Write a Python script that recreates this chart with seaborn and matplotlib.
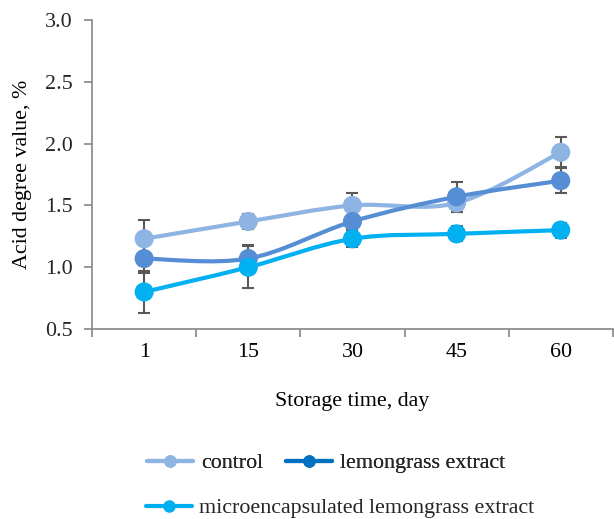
import numpy as np
import pandas as pd
import seaborn as sns
import matplotlib
matplotlib.use("Agg")
import matplotlib.pyplot as plt
from matplotlib.path import Path
from matplotlib.patches import PathPatch
from matplotlib.lines import Line2D

days = ["1", "15", "30", "45", "60"]
control = [1.23, 1.37, 1.50, 1.52, 1.93]
control_err = [0.15, 0.06, 0.10, 0.07, 0.12]
lemongrass = [1.07, 1.07, 1.37, 1.57, 1.70]
lemongrass_err = [0.12, 0.11, 0.09, 0.12, 0.10]
micro = [0.80, 1.00, 1.23, 1.27, 1.30]
micro_err = [0.17, 0.17, 0.07, 0.06, 0.06]

series_names = ["control", "lemongrass extract", "microencapsulated lemongrass extract"]
line_colors = ["#8DB4E2", "#558ED5", "#00B0F0"]
legend_colors = ["#8DB4E2", "#0070C0", "#00B0F0"]

FS = 15.8

sns.set_theme(style="white")
plt.rcParams["font.family"] = ["Liberation Serif", "DejaVu Serif"]

rows = []
for name, vals, errs in zip(series_names, [control, lemongrass, micro],
                            [control_err, lemongrass_err, micro_err]):
    for i, (d, v, e) in enumerate(zip(days, vals, errs)):
        rows.append({"series": name, "day": d, "pos": i, "value": v, "err": e})
df = pd.DataFrame(rows)

fig = plt.figure(figsize=(6.14, 5.19), dpi=100)
ax = fig.add_axes([0.150, 0.366, 0.848, 0.5955])


def smooth_path(xs, ys):
    pts = np.column_stack([xs, ys]).astype(float)
    n = len(pts)
    verts = [pts[0]]
    codes = [Path.MOVETO]
    for i in range(n - 1):
        p0 = pts[i - 1] if i > 0 else pts[i]
        p1 = pts[i]
        p2 = pts[i + 1]
        p3 = pts[i + 2] if i + 2 < n else pts[i + 1]
        c1 = p1 + (p2 - p0) / 6.0
        c2 = p2 - (p3 - p1) / 6.0
        verts += [c1, c2, p2]
        codes += [Path.CURVE4] * 3
    return Path(verts, codes)


for name, col in zip(series_names, line_colors):
    sub = df[df["series"] == name]
    ax.errorbar(sub["pos"], sub["value"], yerr=sub["err"], fmt="none",
                ecolor="#595959", elinewidth=1.5, capsize=4.5, capthick=1.5, zorder=2)

for name, col in zip(series_names, line_colors):
    sub = df[df["series"] == name]
    patch = PathPatch(smooth_path(sub["pos"].values, sub["value"].values),
                      facecolor="none", edgecolor=col, lw=3.0, zorder=3,
                      capstyle="round", joinstyle="round")
    ax.add_patch(patch)

sns.scatterplot(data=df, x="pos", y="value", hue="series", palette=line_colors,
                hue_order=series_names, s=190, edgecolor="none", ax=ax,
                legend=False, zorder=4)

ax.set_xlim(-0.5, 4.5)
ax.set_ylim(0.5, 3.0)
ax.set_yticks([0.5, 1.0, 1.5, 2.0, 2.5, 3.0])
ax.set_yticklabels(["0.5", "1.0", "1.5", "2.0", "2.5", "3.0"])
ax.set_xticks(range(len(days)))
ax.set_xticklabels(days)
ax.set_xticks(np.arange(-0.5, 4.6, 1.0), minor=True)
ax.tick_params(axis="x", which="major", length=0, pad=10, labelsize=FS, colors="black")
ax.tick_params(axis="x", which="minor", length=6, width=1.2, color="#868686", direction="out")
ax.tick_params(axis="y", which="major", length=6, width=1.2, color="#868686",
               direction="out", labelsize=FS, pad=8, left=True)
ax.xaxis.set_tick_params(bottom=True, which="minor")

for side in ["top", "right"]:
    ax.spines[side].set_visible(False)
for side in ["left", "bottom"]:
    ax.spines[side].set_color("#868686")
    ax.spines[side].set_linewidth(1.2)

ax.set_xlabel("Storage time, day", fontsize=FS, labelpad=22, color="black")
ax.set_ylabel("Acid degree value, %", fontsize=FS, labelpad=9, color="black")
ax.set_facecolor("white")

handles = [Line2D([0], [0], color=c, lw=3, marker="o", markersize=8) for c in legend_colors]
leg1 = fig.legend(handles[:2], series_names[:2], loc="center",
                  bbox_to_anchor=(326 / 614, 1 - 463 / 519), ncol=2, frameon=False,
                  fontsize=FS, handlelength=2.1, handletextpad=0.35, columnspacing=1.05)
leg2 = fig.legend(handles[2:], series_names[2:], loc="center",
                  bbox_to_anchor=(340 / 614, 1 - 508 / 519), frameon=False,
                  fontsize=FS, handlelength=2.1, handletextpad=0.35)
fig.add_artist(leg1)

fig.savefig("out.png", dpi=100, facecolor="white")
